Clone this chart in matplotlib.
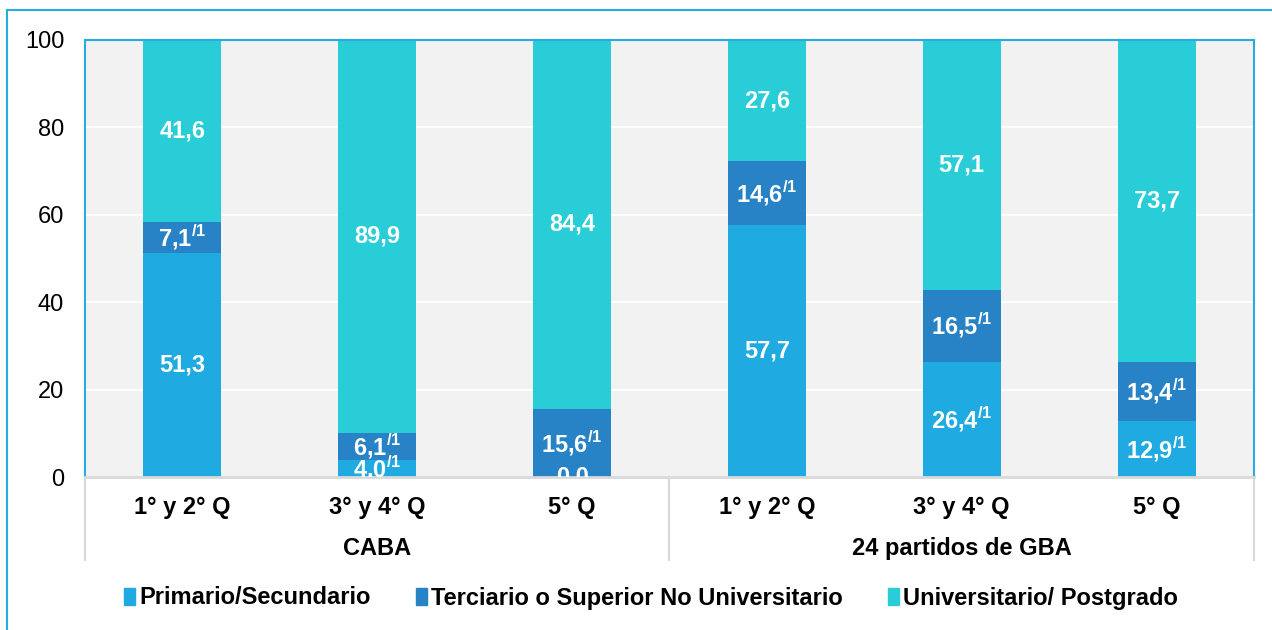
import matplotlib.pyplot as plt
import numpy as np
from matplotlib.patches import Rectangle
from matplotlib.lines import Line2D

plt.rcParams['font.family'] = ['Liberation Sans', 'DejaVu Sans']
plt.rcParams['mathtext.fontset'] = 'custom'
plt.rcParams['mathtext.bf'] = 'Liberation Sans:bold'
plt.rcParams['mathtext.rm'] = 'Liberation Sans:bold'

categories = ['1° y 2° Q', '3° y 4° Q', '5° Q', '1° y 2° Q', '3° y 4° Q', '5° Q']
groups = ['CABA', '24 partidos de GBA']
series = ['Primario/Secundario', 'Terciario o Superior No Universitario', 'Universitario/ Postgrado']
primario = [51.3, 4.0, 0.0, 57.7, 26.4, 12.9]
terciario = [7.1, 6.1, 15.6, 14.6, 16.5, 13.4]
universitario = [41.6, 89.9, 84.4, 27.6, 57.1, 73.7]
# which values carry the "/1" note
nota_primario = [False, True, False, False, True, True]
nota_terciario = [True, True, True, True, True, True]
nota_universitario = [False, False, False, False, False, False]

colors = ['#1FAAE1', '#2882C6', '#29CDD7']
border = '#29ABE2'
fs = 17

fig = plt.figure(figsize=(12.72, 6.30), dpi=100)
ax = fig.add_axes([85/1272, 1 - 477/630, (1254-85)/1272, (477-40)/630])
ax.set_facecolor('#F2F2F2')

x = np.arange(len(categories))
bottom = np.zeros(len(categories))
for vals, notes, col in zip([primario, terciario, universitario],
                            [nota_primario, nota_terciario, nota_universitario], colors):
    ax.bar(x, vals, 0.4, bottom=bottom, color=col, zorder=2)
    for xi, v, b, n in zip(x, vals, bottom, notes):
        s = f'{v:.1f}'.replace('.', ',')
        if n:
            s += r'$^{\mathbf{/1}}$'
        ax.text(xi, b + v / 2, s, ha='center', va='center', color='white',
                fontsize=fs, fontweight='bold', zorder=3, clip_on=True)
    bottom += np.array(vals)

ax.set_xlim(-0.5, 5.5)
ax.set_ylim(0, 100)
ax.set_yticks([0, 20, 40, 60, 80, 100])
ax.yaxis.grid(True, color='white', linewidth=1.5, zorder=1)
ax.set_axisbelow(True)
ax.tick_params(axis='y', length=0, labelsize=fs, pad=15)
ax.set_xticks(x)
ax.set_xticklabels(categories, fontsize=fs, fontweight='bold')
ax.tick_params(axis='x', length=0, pad=14)

for s in ['top', 'left', 'right']:
    ax.spines[s].set_color(border)
    ax.spines[s].set_linewidth(1.5)
ax.spines['bottom'].set_color('#D9D9D9')
ax.spines['bottom'].set_linewidth(2)

# group labels and separators
for gx, g in zip([1, 4], groups):
    ax.text(gx, -16.3, g, ha='center', va='center', fontsize=fs, fontweight='bold',
            transform=ax.transData, clip_on=False)
for sx in [-0.5, 2.5, 5.5]:
    ax.add_line(Line2D([sx, sx], [0, -19], color='#D9D9D9', linewidth=1.5, clip_on=False))

handles = [Rectangle((0, 0), 1, 1, color=c) for c in colors]
fig.legend(handles, series, loc='center', bbox_to_anchor=(0.512, 1 - 598/630), ncol=3,
           frameon=False, handlelength=0.45, handleheight=0.7, handletextpad=0.2,
           columnspacing=1.9, prop={'weight': 'bold', 'size': fs})

fig.patches.append(Rectangle((7/1272, -0.01), 1.0, 1 - 10/630 + 0.01, transform=fig.transFigure,
                             fill=False, edgecolor=border, linewidth=1.5))

plt.savefig('out.png')
